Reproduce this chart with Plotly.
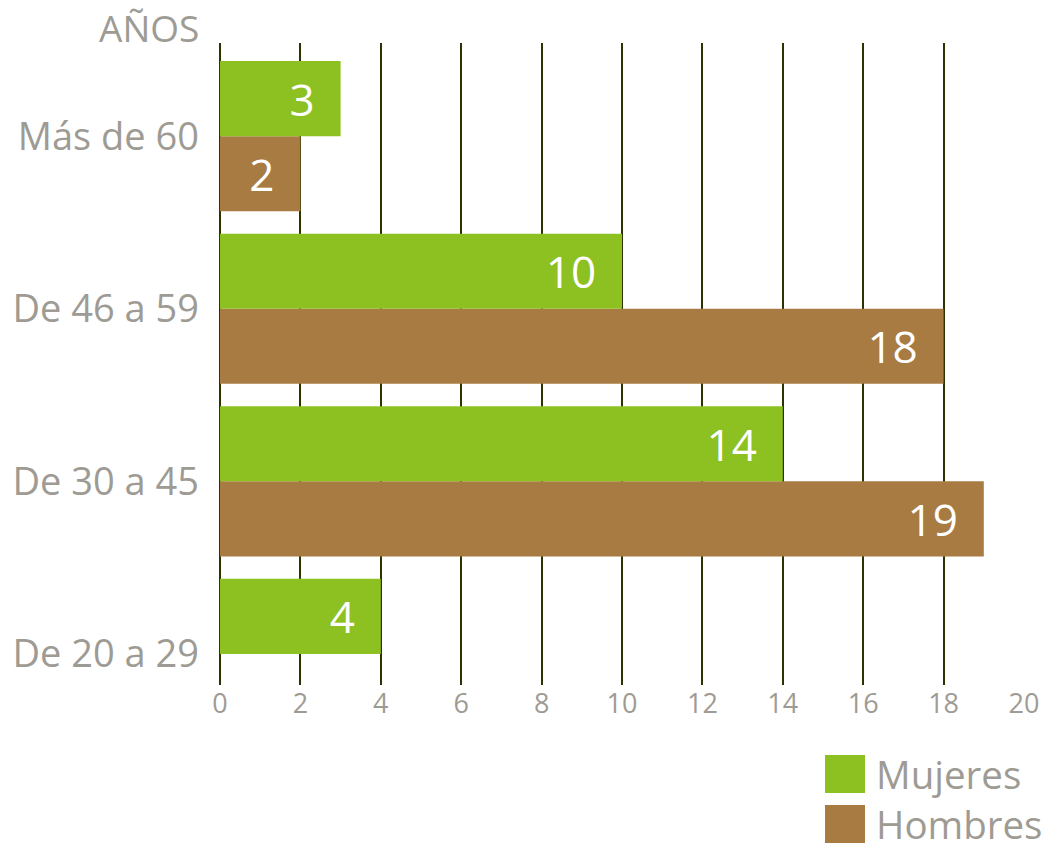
import plotly.graph_objects as go

# age groups, bottom to top
grupos = ['De 20 a 29', 'De 30 a 45', 'De 46 a 59', 'Más de 60']
mujeres = [4, 14, 10, 3]
hombres = [0, 19, 18, 2]
ticks_x = [0, 2, 4, 6, 8, 10, 12, 14, 16, 18, 20]

verde = '#8dc021'
marron = '#a87b42'
gris = '#9e9b94'
rejilla = '#2b3300'
fuente = 'Open Sans'

# plot box in figure pixels (page adds an 8px body margin)
L, R, T, B = 212, 1016, 35, 677
W, H = R - L, B - T


def etiquetas(vals):
    # no label for empty bars, small pad before the bar end
    return [str(v) + '\u00a0\u00a0' if v else '' for v in vals]


fig = go.Figure()
# Hombres first so it sits below Mujeres inside each group
fig.add_trace(go.Bar(
    y=grupos, x=hombres, orientation='h', name='Hombres',
    marker=dict(color=marron, line=dict(width=0)),
    text=etiquetas(hombres), textposition='inside', insidetextanchor='end',
    textfont=dict(color='white', size=44, family=fuente),
    showlegend=False,
))
fig.add_trace(go.Bar(
    y=grupos, x=mujeres, orientation='h', name='Mujeres',
    marker=dict(color=verde, line=dict(width=0)),
    text=etiquetas(mujeres), textposition='inside', insidetextanchor='end',
    textfont=dict(color='white', size=44, family=fuente),
    showlegend=False,
))

fig.update_layout(
    width=1053, height=848,
    margin=dict(l=L, r=1053 - R, t=T, b=848 - B),
    paper_bgcolor='white', plot_bgcolor='white',
    barmode='group', bargap=0.13, bargroupgap=0,
    font=dict(family=fuente, color=gris),
)
fig.update_xaxes(
    range=[0, 20], tickvals=ticks_x, showgrid=True, gridcolor=rejilla, gridwidth=2,
    zeroline=True, zerolinecolor=rejilla, zerolinewidth=2, showline=False,
    tickfont=dict(size=27, color=gris, family=fuente), ticks='', ticklabelstandoff=0,
    fixedrange=True, automargin=False,
)
fig.update_yaxes(
    type='category', categoryorder='array', categoryarray=grupos,
    range=[-0.18, 3.54], showgrid=False, zeroline=False, showline=False,
    tickfont=dict(size=38, color=gris, family=fuente), ticks='', ticklabelstandoff=20,
    fixedrange=True, automargin=False,
)

# axis caption
fig.add_annotation(
    text='AÑOS', xref='paper', yref='paper', x=(193 - L) / W, y=(B - 20) / H,
    xanchor='right', yanchor='middle', showarrow=False,
    font=dict(size=37, color=gris, family=fuente),
)

# legend drawn by hand, with large swatches
leyenda = [('Mujeres', verde), ('Hombres', marron)]
for i, (nombre, color) in enumerate(leyenda):
    y0 = 747 + i * 50
    fig.add_shape(type='rect', xref='paper', yref='paper',
                  x0=(817 - L) / W, x1=(857 - L) / W,
                  y0=(B - y0 - 38) / H, y1=(B - y0) / H,
                  fillcolor=color, line=dict(width=0))
    fig.add_annotation(text=nombre, xref='paper', yref='paper',
                       x=(866 - L) / W, y=(B - y0 - 19) / H,
                       xanchor='left', yanchor='middle', showarrow=False,
                       font=dict(size=38.5, color=gris, family=fuente))

fig.write_html('out.html')
